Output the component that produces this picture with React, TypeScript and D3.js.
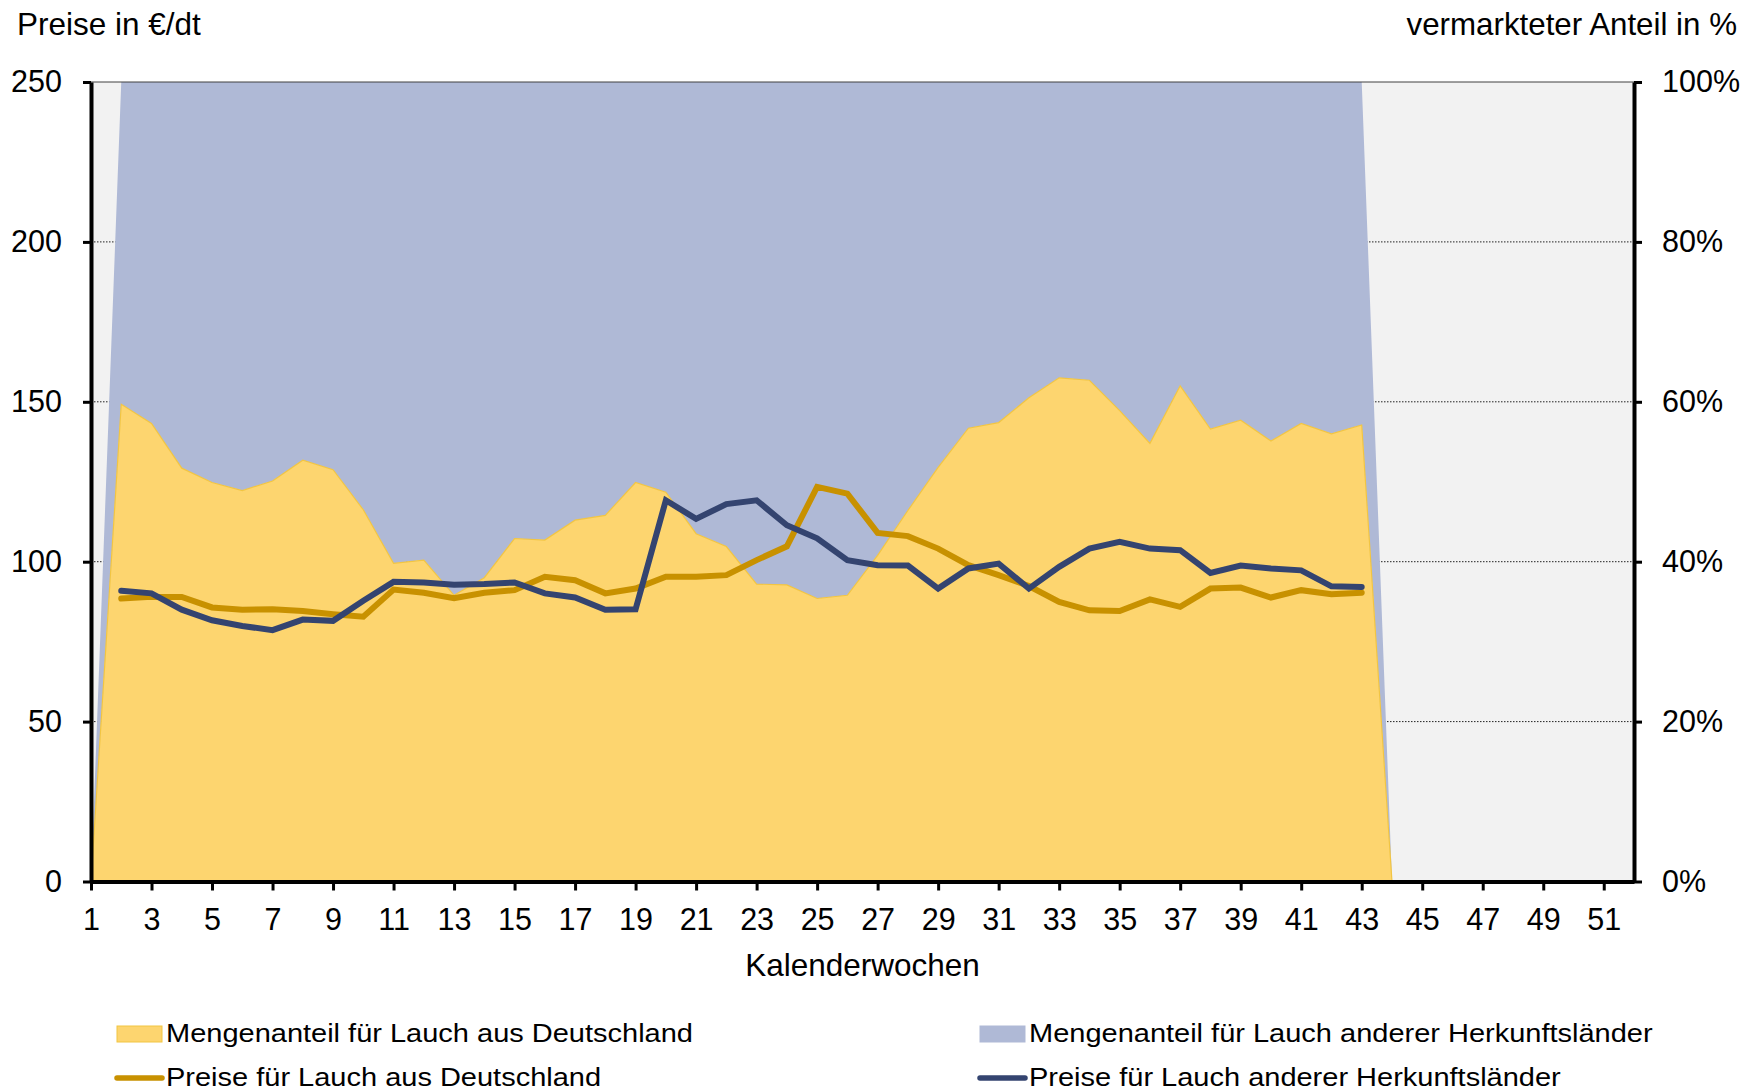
import React, { useEffect, useRef } from "react";
import * as d3 from "d3";

// Kalenderwochen mit Mengenanteilen (Woche 1 und 44 ohne Vermarktung)
const weeks = [1, 2, 3, 4, 5, 6, 7, 8, 9, 10, 11, 12, 13, 14, 15, 16, 17, 18, 19, 20, 21, 22,
  23, 24, 25, 26, 27, 28, 29, 30, 31, 32, 33, 34, 35, 36, 37, 38, 39, 40, 41, 42, 43, 44];

// Mengenanteil in %
const shareDE = [0, 59.7, 57.3, 51.7, 49.9, 48.9, 50.1, 52.7, 51.5, 46.5, 39.8, 40.2, 35.8, 38.0,
  42.9, 42.7, 45.2, 45.8, 49.9, 48.7, 43.5, 41.9, 37.2, 37.1, 35.4, 35.8, 40.8, 46.4, 51.8, 56.7,
  57.4, 60.5, 63.0, 62.7, 58.9, 54.8, 62.0, 56.6, 57.7, 55.1, 57.3, 56.0, 57.1, 0];
const shareOther = [0, 40.3, 42.7, 48.3, 50.1, 51.1, 49.9, 47.3, 48.5, 53.5, 60.2, 59.8, 64.2, 62.0,
  57.1, 57.3, 54.8, 54.2, 50.1, 51.3, 56.5, 58.1, 62.8, 62.9, 64.6, 64.2, 59.2, 53.6, 48.2, 43.3,
  42.6, 39.5, 37.0, 37.3, 41.1, 45.2, 38.0, 43.4, 42.3, 44.9, 42.7, 44.0, 42.9, 0];

// Preise in €/dt, Wochen 2 bis 43
const priceWeeks = weeks.slice(1, 43);
const priceDE = [88.5, 89.0, 89.0, 85.7, 85.0, 85.1, 84.6, 83.6, 82.8, 91.3, 90.3, 88.6, 90.3,
  91.1, 95.3, 94.2, 90.1, 91.6, 95.3, 95.3, 95.8, 100.5, 104.8, 123.4, 121.3, 109.0, 108.0, 104.1,
  98.9, 95.8, 92.4, 87.4, 84.8, 84.6, 88.2, 85.9, 91.6, 91.9, 88.8, 91.1, 89.8, 90.3];
const priceOther = [90.9, 90.1, 85.0, 81.7, 79.9, 78.6, 81.9, 81.5, 87.8, 93.7, 93.5, 92.8, 93.0,
  93.5, 90.1, 88.8, 85.0, 85.1, 119.2, 113.4, 118.0, 119.2, 111.4, 107.3, 100.5, 98.9, 98.8, 91.6,
  97.9, 99.4, 91.6, 98.4, 104.1, 106.2, 104.1, 103.6, 96.5, 98.8, 97.9, 97.3, 92.3, 92.1];

const xTicks = [1, 3, 5, 7, 9, 11, 13, 15, 17, 19, 21, 23, 25, 27, 29, 31, 33, 35, 37, 39, 41, 43, 45, 47, 49, 51];
const leftTicks = [0, 50, 100, 150, 200, 250];
const rightTicks = [0, 20, 40, 60, 80, 100];

const legendItems = [
  { label: "Mengenanteil für Lauch aus Deutschland", kind: "area", color: "#FDD56F", edge: "#F2C542" },
  { label: "Mengenanteil für Lauch anderer Herkunftsländer", kind: "area", color: "#AFB9D6", edge: "#AFB9D6" },
  { label: "Preise für Lauch aus Deutschland", kind: "line", color: "#C89100", edge: "" },
  { label: "Preise für Lauch anderer Herkunftsländer", kind: "line", color: "#344470", edge: "" },
];

export default function App() {
  const ref = useRef<SVGSVGElement>(null);

  useEffect(() => {
    const svg = d3.select(ref.current);
    svg.selectAll("*").remove();

    const left = 91, right = 1634, top = 82, bottom = 881.5;
    const font = "'Liberation Sans', Arial, sans-serif";

    const x = d3.scaleLinear().domain([1, 52]).range([left, right]);
    const yL = d3.scaleLinear().domain([0, 250]).range([bottom, top]);
    const yR = d3.scaleLinear().domain([0, 100]).range([bottom, top]);

    // plot background
    svg.append("rect")
      .attr("x", left).attr("y", top)
      .attr("width", right - left).attr("height", bottom - top)
      .attr("fill", "#F2F2F2");

    // dotted gridlines
    svg.append("g").selectAll("line")
      .data(leftTicks.filter((v) => v > 0 && v < 250))
      .enter().append("line")
      .attr("x1", left).attr("x2", right)
      .attr("y1", (d) => yL(d)).attr("y2", (d) => yL(d))
      .attr("stroke", "#222").attr("stroke-width", 1)
      .attr("stroke-dasharray", "1.5,1.5");

    // stacked share areas
    const rows = weeks.map((w, i) => ({ week: w, de: shareDE[i], other: shareOther[i] }));
    const stacked = d3.stack<any>().keys(["de", "other"])(rows);
    const area = d3.area<any>()
      .x((d) => x(d.data.week))
      .y0((d) => yR(d[0]))
      .y1((d) => yR(d[1]));

    svg.append("path").datum(stacked[1]).attr("d", area).attr("fill", "#AFB9D6");
    svg.append("path").datum(stacked[0]).attr("d", area)
      .attr("fill", "#FDD56F").attr("stroke", "#F2C542").attr("stroke-width", 1.2);

    // price lines
    const line = d3.line<number>()
      .x((d, i) => x(priceWeeks[i]))
      .y((d) => yL(d));

    svg.append("path").attr("d", line(priceDE))
      .attr("fill", "none").attr("stroke", "#C89100").attr("stroke-width", 6)
      .attr("stroke-linecap", "round").attr("stroke-linejoin", "miter");
    svg.append("path").attr("d", line(priceOther))
      .attr("fill", "none").attr("stroke", "#344470").attr("stroke-width", 6)
      .attr("stroke-linecap", "round").attr("stroke-linejoin", "miter");

    // top border
    svg.append("line")
      .attr("x1", left).attr("x2", right).attr("y1", top).attr("y2", top)
      .attr("stroke", "#404040").attr("stroke-width", 1);

    // axes
    const styleAxis = (g: any) => {
      g.attr("font-size", 30.5).attr("font-family", font);
      g.select(".domain").attr("stroke", "#000").attr("stroke-width", 4);
      g.selectAll(".tick line").attr("stroke", "#000").attr("stroke-width", 3);
      g.selectAll(".tick text").attr("fill", "#000");
    };

    svg.append("g")
      .attr("transform", `translate(${left},0)`)
      .call(d3.axisLeft(yL).tickValues(leftTicks).tickSize(8).tickSizeOuter(0).tickPadding(21)
        .tickFormat((d: any) => String(d)))
      .call(styleAxis);

    svg.append("g")
      .attr("transform", `translate(${right},0)`)
      .call(d3.axisRight(yR).tickValues(rightTicks).tickSize(8).tickSizeOuter(0).tickPadding(20)
        .tickFormat((d: any) => d + "%"))
      .call(styleAxis);

    svg.append("g")
      .attr("transform", `translate(0,${bottom})`)
      .call(d3.axisBottom(x).tickValues(xTicks).tickSize(9).tickSizeOuter(0).tickPadding(18)
        .tickFormat((d: any) => String(d)))
      .call(styleAxis);

    // axis titles
    svg.append("text")
      .attr("x", 17).attr("y", 35)
      .attr("font-family", font).attr("font-size", 31.5)
      .text("Preise in €/dt");
    svg.append("text")
      .attr("x", 1737).attr("y", 35)
      .attr("text-anchor", "end")
      .attr("font-family", font).attr("font-size", 31.3)
      .text("vermarkteter Anteil in %");
    svg.append("text")
      .attr("x", (left + right) / 2).attr("y", 976)
      .attr("text-anchor", "middle")
      .attr("font-family", font).attr("font-size", 31.5)
      .text("Kalenderwochen");

    // legend
    const colX = [117, 980];
    const rowY = [1042, 1086];
    legendItems.forEach((item, i) => {
      const cx = colX[i % 2];
      const ry = rowY[Math.floor(i / 2)];
      if (item.kind === "area") {
        svg.append("rect")
          .attr("x", cx).attr("y", ry - 16)
          .attr("width", 45).attr("height", 16)
          .attr("fill", item.color).attr("stroke", item.edge).attr("stroke-width", 1);
      } else {
        svg.append("line")
          .attr("x1", cx).attr("x2", cx + 45)
          .attr("y1", ry - 8).attr("y2", ry - 8)
          .attr("stroke", item.color).attr("stroke-width", 5.5)
          .attr("stroke-linecap", "round");
      }
      svg.append("g")
        .attr("transform", `translate(${cx + 49},${ry}) scale(1.16,1)`)
        .append("text")
        .attr("font-family", font).attr("font-size", 25)
        .text(item.label);
    });
  }, []);

  return (
    <svg
      ref={ref}
      width={1752}
      height={1092}
      style={{ position: "absolute", left: 0, top: 0, background: "#fff" }}
    />
  );
}
